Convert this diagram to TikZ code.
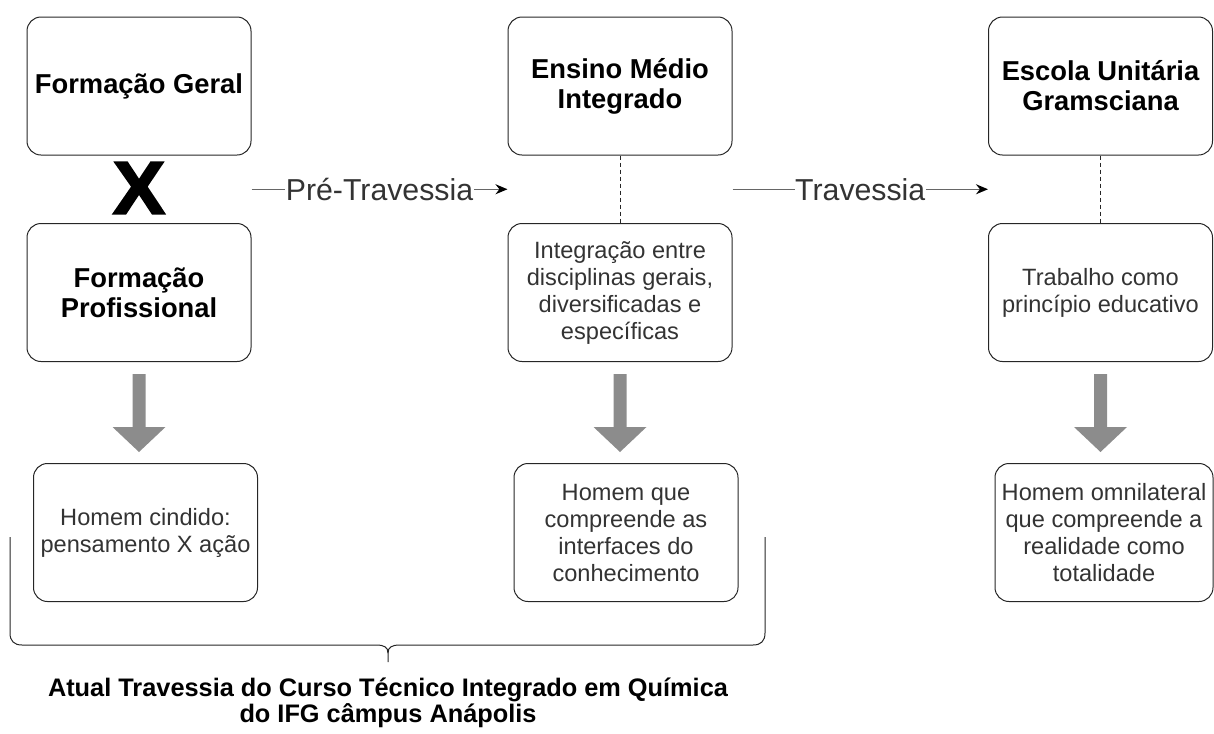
\documentclass[tikz,border=0pt]{standalone}
\usepackage{fontspec}
\setmainfont{Liberation Sans}
\newfontfamily\grossa[FakeBold=2.5]{Liberation Sans}
\usetikzlibrary{arrows.meta, positioning, calc}

\definecolor{cinza}{HTML}{8C8C8C}
\definecolor{texto}{HTML}{333333}

\tikzset{
    caixa/.style={draw=black!85, line width=0.75pt, rounded corners=10.5pt, minimum width=168pt, minimum height=103.5pt, align=center, inner sep=2pt},
    titulo/.style={caixa, font=\fontsize{20.5}{22.5}\selectfont\bfseries, text=black},
    desc/.style={caixa, font=\fontsize{17.7}{20.25}\selectfont, text=texto},
    passo/.style={draw=black!60, line width=1.1pt, -{Stealth[black, length=9pt, width=7.5pt]}},
    rotulo/.style={fill=white, inner sep=0.5pt, font=\fontsize{22.7}{25}\selectfont, text=texto},
}

% seta larga cinza entre duas caixas
\newcommand{\setalarga}[2]{
    \fill[cinza] ($(#1.south)+(-6.5,12)$) -- ++(13,0) -- ++(0,53) -- ++(20,0)
        -- ($(#1.south |- #2.north)+(0,-11)$) -- ($(#1.south)+(-26.5,65)$) -- ++(20,0) -- cycle;
}

\begin{document}
\begin{tikzpicture}[x=0.75pt, y=-0.75pt]
    \useasboundingbox (0,0) rectangle (1214,733);

    % coluna 1
    \node[titulo] (fg) at (139,86) {Formação Geral};
    \node[font=\fontsize{56}{56}\grossa\bfseries, xscale=1.05, inner sep=0pt] (x) at (139,188) {X};
    \node[titulo] (fp) at (139,292.5) {Formação\\Profissional};
    \node[desc] (hc) at (145.5,532.5) {Homem cindido:\\pensamento X ação};

    % coluna 2
    \node[titulo] (em) at (620,86) {Ensino Médio\\Integrado};
    \node[desc] (ie) at (620,292.5) {Integração entre\\disciplinas gerais,\\diversificadas e\\específicas};
    \node[desc] (hq) at (626,532.5) {Homem que\\compreende as\\interfaces do\\conhecimento};

    % coluna 3
    \node[titulo] (eu) at (1100.5,86) {Escola Unitária\\Gramsciana};
    \node[desc] (tp) at (1100.5,292.5) {Trabalho como\\princípio educativo};
    \node[desc, minimum width=163.5pt] (ho) at (1104,532.5) {Homem omnilateral\\que compreende a\\realidade como\\totalidade};

    % ligações tracejadas
    \foreach \a/\b in {em/ie, eu/tp} {
        \draw[black!85, line width=0.75pt, dash pattern=on 3pt off 2.25pt] (\a.south) -- (\b.north);
    }

    % travessias
    \draw[passo] ($(fg.east)!0.5!(fp.east)$) -- node[rotulo] {Pré-Travessia} ($(em.west)!0.5!(ie.west)$);
    \draw[passo] ($(em.east)!0.5!(ie.east)$) -- node[rotulo] {Travessia} ($(eu.west)!0.5!(tp.west)$);

    % setas cinzas
    \foreach \a/\b in {fp/hc, ie/hq, tp/ho} {
        \setalarga{\a}{\b}
    }

    % chave
    \draw[black!85, line width=0.75pt] (10,537) -- (10,633) .. controls (10,641) and (14,645) .. (22,645)
        -- (376,645) .. controls (384,645) and (388,647) .. (388,653) -- (388,662);
    \draw[black!85, line width=0.75pt] (765,537) -- (765,633) .. controls (765,641) and (761,645) .. (753,645)
        -- (400,645) .. controls (392,645) and (388,647) .. (388,653);
    \node[font=\fontsize{19}{19.5}\selectfont\bfseries, text=black, align=center] (leg) at (388,703)
        {Atual Travessia do Curso Técnico Integrado em Química\\do IFG câmpus Anápolis};
\end{tikzpicture}
\end{document}
